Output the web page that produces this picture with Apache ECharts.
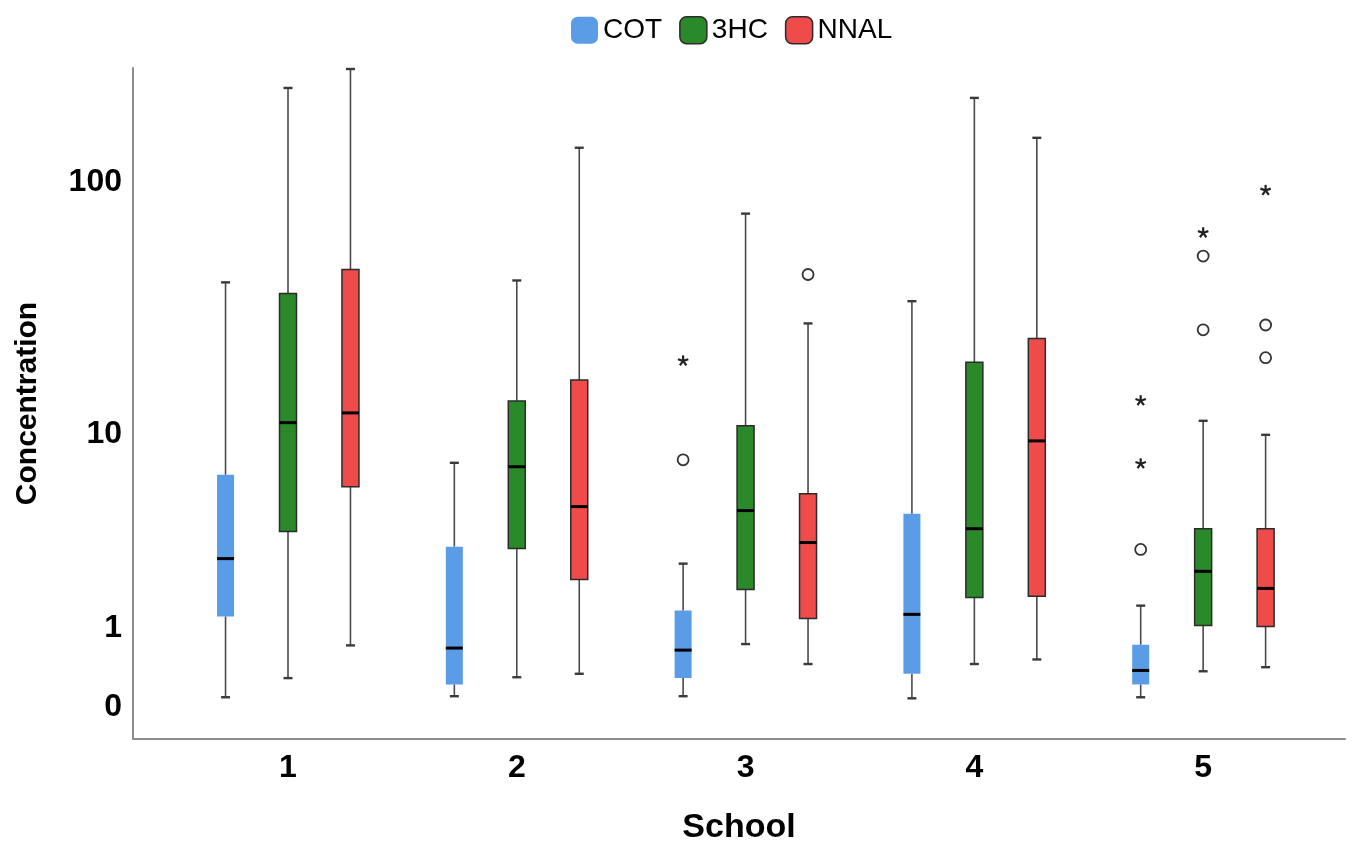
<!DOCTYPE html>
<html>
<head>
<meta charset="utf-8">
<script src="https://cdn.jsdelivr.net/npm/echarts@6/dist/echarts.min.js"></script>
<style>
html,body{margin:0;padding:0;background:#fff;}
#chart{width:1363px;height:850px;}
</style>
</head>
<body>
<div id="chart"></div>
<script>
// ---------------- data ----------------
const schools = [1, 2, 3, 4, 5];
const seriesNames = ['COT', '3HC', 'NNAL'];
const yTickLabels = [0, 1, 10, 100];

// [min, Q1, median, Q3, max] per school
const cotBox = [
  [0.09, 1.22, 2.69, 6.71, 40.9],
  [0.10, 0.22, 0.68, 3.10, 7.57],
  [0.10, 0.29, 0.65, 1.34, 2.53],
  [0.08, 0.34, 1.26, 4.48, 34.5],
  [0.09, 0.22, 0.38, 0.73, 1.44]
];
const hcBox = [
  [0.29, 3.68, 11.2, 37.0, 230.6],
  [0.30, 3.03, 7.28, 13.76, 41.6],
  [0.74, 1.81, 4.63, 10.86, 75.7],
  [0.46, 1.62, 3.80, 19.77, 211.2],
  [0.37, 1.05, 2.30, 3.80, 11.4]
];
const nnalBox = [
  [0.72, 5.94, 12.29, 45.96, 272.6],
  [0.34, 2.07, 4.83, 16.74, 135.9],
  [0.46, 1.18, 3.25, 5.53, 28.2],
  [0.52, 1.65, 9.39, 24.6, 148.4],
  [0.42, 1.03, 1.84, 3.80, 9.96]
];

// [school, value, kind]  kind: 'o' = outlier (circle), '*' = extreme (star)
const cotOutliers = [[3, 20.0, '*'], [3, 7.8, 'o'], [5, 13.8, '*'], [5, 7.5, '*'], [5, 3.0, 'o']];
const hcOutliers = [[5, 63.8, '*'], [5, 51.8, 'o'], [5, 26.6, 'o']];
const nnalOutliers = [[3, 43.9, 'o'], [5, 93.1, '*'], [5, 27.8, 'o'], [5, 20.6, 'o']];

// ---------------- helpers ----------------
const tf = v => Math.log10(v + 1);          // log(x+1) scale
const groupOffset = [-0.273, 0, 0.273];    // position of each series within a school

const colors = {
  COT:  { fill: '#5b9ce6', stroke: '#5b9ce6', lw: 0 },
  '3HC': { fill: '#2a8a2a', stroke: '#2b2b2b', lw: 1.5 },
  NNAL: { fill: '#ef4b4b', stroke: '#2b2b2b', lw: 1.5 }
};

function buildBoxData(box, idx) {
  return box.map((b, i) => [schools[i] + groupOffset[idx]].concat(b.map(tf)));
}
function buildOutData(outs, idx) {
  return outs.map(o => [o[0] + groupOffset[idx], tf(o[1]), o[2] === '*' ? 1 : 0]);
}

function boxRenderer(st) {
  return function (params, api) {
    const x = api.value(0);
    const p = [1, 2, 3, 4, 5].map(d => api.coord([x, api.value(d)]));
    const cx = p[0][0];
    const yMin = p[0][1], yQ1 = p[1][1], yMed = p[2][1], yQ3 = p[3][1], yMax = p[4][1];
    const hb = 8.5, hc = 4.5;
    const wStyle = { stroke: '#4a4a4a', lineWidth: 1.6 };
    const cStyle = { stroke: '#3a3a3a', lineWidth: 2.4 };
    const rectStyle = { fill: st.fill };
    if (st.lw > 0) { rectStyle.stroke = st.stroke; rectStyle.lineWidth = st.lw; }
    return {
      type: 'group',
      children: [
        { type: 'line', shape: { x1: cx, y1: yMax, x2: cx, y2: yQ3 }, style: wStyle },
        { type: 'line', shape: { x1: cx, y1: yQ1, x2: cx, y2: yMin }, style: wStyle },
        { type: 'line', shape: { x1: cx - hc, y1: yMax, x2: cx + hc, y2: yMax }, style: cStyle },
        { type: 'line', shape: { x1: cx - hc, y1: yMin, x2: cx + hc, y2: yMin }, style: cStyle },
        { type: 'rect', shape: { x: cx - hb, y: yQ3, width: 2 * hb, height: yQ1 - yQ3 }, style: rectStyle },
        { type: 'line', shape: { x1: cx - hb, y1: yMed, x2: cx + hb, y2: yMed }, style: { stroke: '#000', lineWidth: 3 } }
      ]
    };
  };
}

function outlierRenderer(params, api) {
  const p = api.coord([api.value(0), api.value(1)]);
  if (api.value(2) === 1) {
    const children = [];
    for (let k = 0; k < 5; k++) {
      const a = -Math.PI / 2 + k * 2 * Math.PI / 5;
      children.push({
        type: 'line',
        shape: { x1: p[0], y1: p[1], x2: p[0] + 5.5 * Math.cos(a), y2: p[1] + 5.5 * Math.sin(a) },
        style: { stroke: '#222', lineWidth: 2.2 }
      });
    }
    return { type: 'group', children: children };
  }
  return { type: 'circle', shape: { cx: p[0], cy: p[1], r: 5.5 }, style: { fill: '#fff', stroke: '#333', lineWidth: 1.8 } };
}

const boxes = [cotBox, hcBox, nnalBox];
const outs = [cotOutliers, hcOutliers, nnalOutliers];
const series = [];
seriesNames.forEach((name, idx) => {
  series.push({
    name: name,
    type: 'custom',
    renderItem: boxRenderer(colors[name]),
    itemStyle: { color: colors[name].fill },
    encode: { x: 0, y: [1, 2, 3, 4, 5] },
    data: buildBoxData(boxes[idx], idx),
    z: 2
  });
  series.push({
    name: name,
    type: 'custom',
    renderItem: outlierRenderer,
    itemStyle: { color: colors[name].fill },
    encode: { x: 0, y: 1 },
    data: buildOutData(outs[idx], idx),
    z: 3
  });
});

const FONT = '"Liberation Sans", Arial, sans-serif';
const chart = echarts.init(document.getElementById('chart'), null, { renderer: 'canvas' });
chart.setOption({
  animation: false,
  backgroundColor: '#fff',
  legend: {
    top: 11,
    left: 566,
    itemWidth: 27,
    itemHeight: 27,
    itemGap: 17,
    icon: 'roundRect',
    textStyle: { fontSize: 28, color: '#000', fontFamily: FONT },
    data: seriesNames.map(n => ({
      name: n,
      itemStyle: { color: colors[n].fill, borderColor: colors[n].lw > 0 ? colors[n].stroke : colors[n].fill, borderWidth: colors[n].lw > 0 ? 1.5 : 0 }
    }))
  },
  grid: { left: 133, right: 18, top: 68, bottom: 109, containLabel: false },
  xAxis: {
    type: 'value',
    min: 0.3225,
    max: 5.62,
    name: 'School',
    nameLocation: 'middle',
    nameGap: 72,
    nameTextStyle: { fontSize: 34, fontWeight: 'bold', color: '#000', fontFamily: FONT },
    axisLine: { show: true, onZero: false, lineStyle: { color: '#8c8c8c', width: 2 } },
    axisTick: { show: false },
    splitLine: { show: false },
    axisLabel: {
      customValues: schools,
      formatter: v => String(Math.round(v)),
      fontSize: 32, fontWeight: 'bold', color: '#000', fontFamily: FONT, margin: 13
    }
  },
  yAxis: {
    type: 'value',
    min: -0.122,
    max: 2.441,
    name: 'Concentration',
    nameLocation: 'middle',
    nameRotate: 90,
    nameGap: 90,
    nameTextStyle: { fontSize: 30, fontWeight: 'bold', color: '#000', fontFamily: FONT },
    axisLine: { show: true, onZero: false, lineStyle: { color: '#8c8c8c', width: 2 } },
    axisTick: { show: false },
    splitLine: { show: false },
    axisLabel: {
      customValues: yTickLabels.map(tf),
      formatter: v => String(Math.round(Math.pow(10, v) - 1)),
      fontSize: 32, fontWeight: 'bold', color: '#000', fontFamily: FONT, margin: 11
    }
  },
  series: series
});
</script>
</body>
</html>
